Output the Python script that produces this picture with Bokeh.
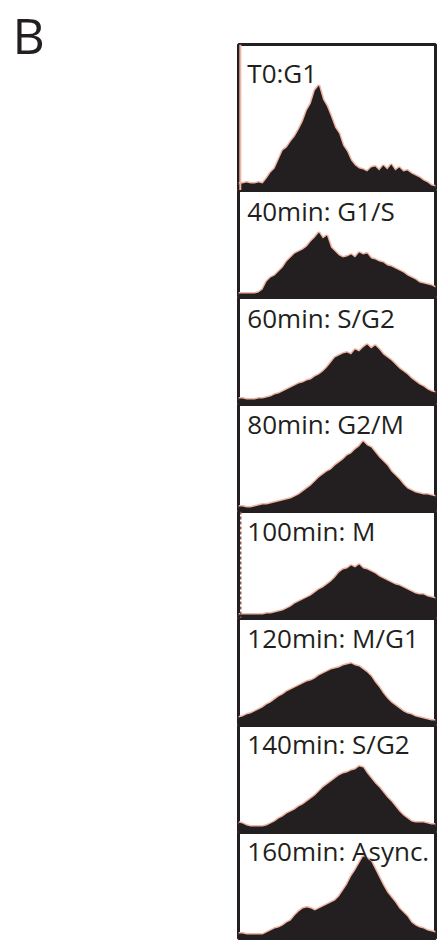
from bokeh.plotting import figure
from bokeh.layouts import column, row
from bokeh.models import Range1d, Label, Span
from bokeh.embed import file_html
from bokeh.resources import INLINE

# ---- data ----
channel = list(range(50))
panel_labels = ["T0:G1", "40min: G1/S", "60min: S/G2", "80min: G2/M",
                "100min: M", "120min: M/G1", "140min: S/G2", "160min: Async."]
panel_letter = "B"

t0_g1 = [7, 7, 8, 7, 7, 8, 7, 12, 18, 22,
         31, 40, 43, 49, 54, 61, 69, 80, 87, 100,
         105, 91, 84, 74, 63, 57, 45, 39, 30, 25,
         22, 21, 19, 23, 24, 20, 25, 21, 26, 20,
         23, 19, 20, 17, 15, 13, 10, 8, 5, 4]
min40 = [4, 4, 4, 4, 4, 5, 8, 16, 20, 22,
         26, 30, 36, 40, 44, 46, 48, 51, 56, 60,
         65, 59, 62, 50, 46, 42, 40, 41, 43, 40,
         45, 43, 44, 39, 38, 36, 35, 32, 31, 29,
         27, 25, 22, 20, 18, 15, 14, 13, 12, 10]
min60 = [6, 6, 5, 5, 5, 6, 6, 7, 8, 10,
         11, 13, 15, 17, 19, 21, 22, 24, 25, 28,
         30, 33, 37, 42, 47, 49, 51, 52, 50, 55,
         53, 57, 60, 56, 59, 55, 50, 47, 44, 40,
         36, 33, 30, 26, 23, 20, 18, 15, 13, 12]
min80 = [5, 5, 4, 4, 5, 6, 7, 7, 8, 9,
         10, 11, 12, 13, 15, 17, 20, 23, 26, 30,
         34, 37, 40, 42, 46, 49, 52, 56, 58, 62,
         65, 70, 66, 64, 59, 54, 50, 46, 40, 36,
         32, 27, 23, 21, 19, 18, 17, 17, 16, 15]
min100 = [4, 4, 4, 4, 4, 4, 4, 5, 5, 6,
          7, 8, 10, 12, 15, 17, 19, 21, 23, 26,
          29, 31, 34, 37, 41, 46, 49, 50, 53, 51,
          54, 50, 49, 47, 45, 42, 40, 38, 36, 34,
          33, 31, 29, 27, 25, 24, 24, 22, 21, 20]
min120 = [8, 9, 11, 12, 14, 16, 18, 21, 23, 26,
          29, 31, 34, 36, 38, 40, 42, 44, 45, 47,
          50, 52, 54, 56, 57, 58, 60, 61, 62, 60,
          59, 56, 53, 49, 43, 38, 32, 27, 23, 20,
          17, 14, 12, 11, 9, 8, 7, 6, 5, 5]
min140 = [10, 9, 7, 6, 6, 6, 6, 7, 9, 11,
          14, 16, 19, 21, 23, 26, 28, 31, 34, 37,
          41, 45, 48, 51, 54, 57, 59, 60, 62, 63,
          66, 65, 59, 54, 49, 45, 40, 35, 31, 26,
          21, 17, 14, 11, 10, 10, 10, 9, 8, 8]
min160 = [5, 5, 4, 4, 4, 4, 4, 6, 8, 10,
          11, 13, 16, 18, 23, 27, 30, 31, 30, 28,
          30, 32, 34, 36, 38, 42, 48, 54, 62, 68,
          75, 82, 80, 77, 69, 61, 53, 46, 41, 36,
          30, 26, 22, 16, 13, 11, 10, 8, 7, 6]

series = [t0_g1, min40, min60, min80, min100, min120, min140, min160]

# ---- layout / style ----
INK = "#231f20"
HALO = "#f0b5a2"
FONT = "Open Sans"
letter_w = 236
letter_h = 70
frame_w = 197
left_pad = 2
right_pad = 4
first_top = 44
frame_h = [146, 107, 107, 107, 107, 107, 107, 106]
label_drop = [38, 30, 30, 29, 29, 29, 28, 28]
label_lift = 10      # compensates the renderer's baseline offset
letter_lift = 20

# letter "B" in its own small canvas to the left
pB = figure(width=letter_w, height=letter_h,
            x_range=Range1d(0, letter_w), y_range=Range1d(0, letter_h),
            x_axis_location=None, y_axis_location=None,
            output_backend="svg", toolbar_location=None,
            min_border=0)
pB.grid.visible = False
pB.outline_line_color = None
pB.add_layout(Label(x=12, y=letter_h - 54 + letter_lift, text=panel_letter, text_font=FONT,
                    text_font_size="50px", text_color=INK,
                    text_baseline="alphabetic"))

figs = []
n = len(series)
for k in range(n):
    counts = series[k]
    H = frame_h[k]
    top = first_top if k == 0 else 0
    bottom = 2 if k == n - 1 else 0
    p = figure(width=left_pad + frame_w + right_pad, height=H + top + bottom,
               x_range=Range1d(0, channel[-1]), y_range=Range1d(0, H),
               x_axis_location=None, y_axis_location=None,
               output_backend="svg", toolbar_location=None,
               min_border_left=left_pad, min_border_right=right_pad,
               min_border_top=top, min_border_bottom=bottom)
    p.grid.visible = False
    p.background_fill_color = "white"
    p.border_fill_color = "white"
    p.outline_line_color = INK
    p.outline_line_width = 3
    p.outline_line_alpha = 1.0

    p.line(channel, counts, line_color=HALO, line_width=3)
    p.varea(x=channel, y1=[0] * len(channel), y2=counts, fill_color=INK)

    if k == 0:
        p.add_layout(Span(location=0.45, dimension="height", line_color=HALO, line_width=2))
    if k == 4:
        p.add_layout(Span(location=0.55, dimension="height", line_color="#8a5a4e",
                          line_width=1.5, line_dash="3 2"))

    p.add_layout(Label(x=2.2, y=H - label_drop[k] + label_lift, text=panel_labels[k],
                       text_font=FONT, text_font_size="26px", text_color=INK,
                       text_baseline="alphabetic"))
    figs.append(p)

layout = row(pB, column(*figs, spacing=0), spacing=0)
open("out.html", "w").write(file_html(layout, INLINE))
